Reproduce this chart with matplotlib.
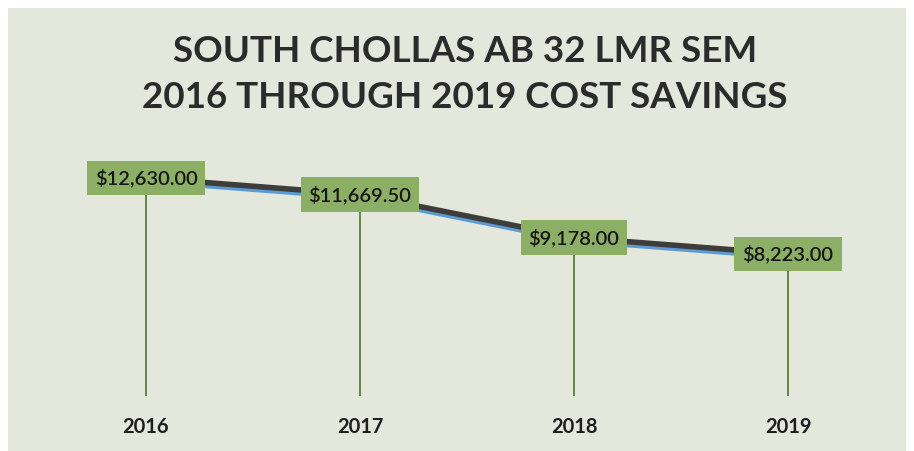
import matplotlib
matplotlib.use('Agg')
import matplotlib.pyplot as plt
import matplotlib.patheffects as pe
from matplotlib.patches import Rectangle

# data
years = ['2016', '2017', '2018', '2019']
savings = [12630.00, 11669.50, 9178.00, 8223.00]
title_lines = ['SOUTH CHOLLAS AB 32 LMR SEM', '2016 THROUGH 2019 COST SAVINGS']

plt.rcParams['font.family'] = ['Lato', 'DejaVu Sans']

fig = plt.figure(figsize=(9.14, 4.51), dpi=100)
fig.patch.set_facecolor('white')

# panel background
fig.patches.append(Rectangle((8 / 914, 0), 898 / 914, 443 / 451,
                             transform=fig.transFigure, facecolor='#e3e7dc',
                             edgecolor='none', zorder=-5))

ax = fig.add_axes([39 / 914, 55 / 451, 856 / 914, 259 / 451])
ax.set_facecolor('none')
x = list(range(len(years)))

# drop lines
ax.vlines(x, 0, savings, color='#5d7a3c', linewidth=1.3, zorder=1)

# main line with blue shadow
ax.plot(x, savings, color='#3d3d3b', linewidth=4, solid_capstyle='butt', zorder=2,
        path_effects=[pe.SimpleLineShadow(offset=(0, -2.4), shadow_color='#5b9bd5',
                                          alpha=1.0, linewidth=3.5),
                      pe.Normal()])

# value labels
for xi, v in zip(x, savings):
    ax.text(xi, v, '${:,.2f}'.format(v), ha='center', va='center', fontsize=14.5,
            fontweight='semibold', color='#161616', zorder=3,
            bbox=dict(boxstyle='square,pad=0.4', facecolor='#8caf66', edgecolor='none'))

ax.set_xlim(-0.5, 3.5)
ax.set_ylim(0, 15000)
ax.set_xticks(x)
ax.set_xticklabels(years, fontsize=14.5, fontweight='bold', color='#1e1e1e')
ax.tick_params(axis='x', length=0, pad=15)
ax.set_yticks([])
for s in ax.spines.values():
    s.set_visible(False)

fig.text(465 / 914, 1 - 51 / 451, title_lines[0], ha='center', va='center',
         fontsize=26.5, fontweight='bold', color='#2b2b2b')
fig.text(465 / 914, 1 - 98 / 451, title_lines[1], ha='center', va='center',
         fontsize=26.5, fontweight='bold', color='#2b2b2b')

fig.savefig('out.png', dpi=100, facecolor=fig.get_facecolor())
